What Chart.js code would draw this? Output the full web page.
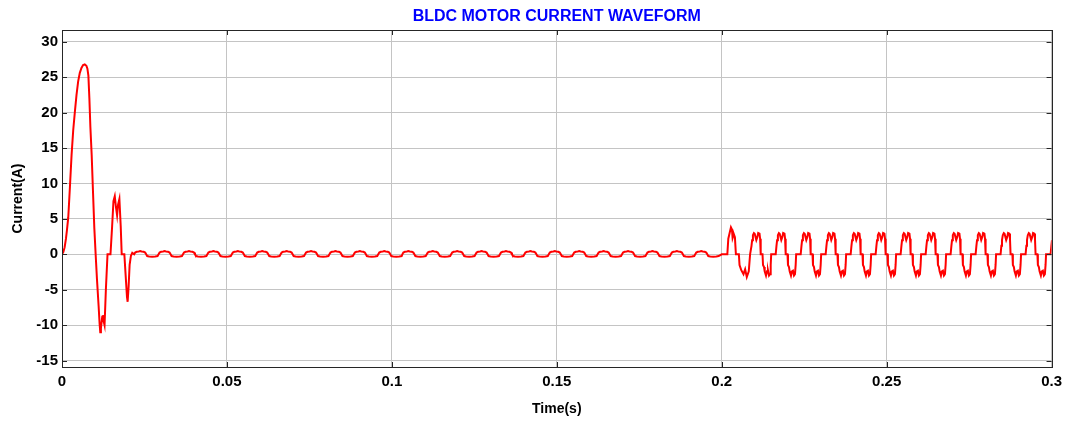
<!DOCTYPE html>
<html>
<head>
<meta charset="utf-8">
<title>BLDC Motor Current Waveform</title>
<script src="https://cdn.jsdelivr.net/npm/chart.js@4.4.1/dist/chart.umd.min.js"></script>
<style>
    html, body { margin: 0; padding: 0; background: #ffffff; }
    #wrap { position: relative; width: 1068px; height: 421px; }
</style>
</head>
<body>
<div id="wrap"><canvas id="currentChart"></canvas></div>
<script>
// start-up transient (s, A)
const startTime = [0, 0.0004, 0.0008, 0.0012, 0.0015, 0.0019, 0.0024, 0.0029, 0.0034, 0.0039, 0.0044,
    0.0049, 0.0054, 0.0059, 0.0064, 0.0069, 0.0074, 0.0077, 0.0080, 0.0083, 0.0086, 0.0090, 0.0094,
    0.0098, 0.0102, 0.0106, 0.0111, 0.0114, 0.0116, 0.0118, 0.0122, 0.0124, 0.0127, 0.0129,
    0.0133, 0.0138, 0.0147, 0.0152, 0.0156, 0.0160, 0.0164, 0.0167, 0.0170, 0.0174, 0.0178, 0.0181,
    0.0189, 0.0193, 0.0197, 0.0199, 0.0202, 0.0205, 0.0209, 0.0213];
const startCurrent = [0, 0.3, 1.0, 2.2, 3.4, 5.2, 9.5, 14.0, 17.5, 20.1, 22.5,
    24.4, 25.6, 26.3, 26.7, 26.8, 26.6, 26.2, 25.2, 22.0, 18.0, 14.0, 8.8,
    3.7, 0, -3.5, -7.3, -9.8, -11.0, -10.4, -8.8, -8.6, -9.6, -10.0,
    -5.0, 0, 0, 4.0, 7.5, 8.2, 6.5, 5.5, 7.0, 7.8, 4.0, 0,
    0, -3.0, -6.0, -6.7, -4.5, -1.5, -0.2, 0.2];

// no-load ripple: centre of each positive hump, and one ripple cycle around it
const idleCentres = [0.0237, 0.0311, 0.0385, 0.0459, 0.0533, 0.0607, 0.0681, 0.0755, 0.0829, 0.0903,
    0.0977, 0.1050, 0.1124, 0.1198, 0.1272, 0.1346, 0.1420, 0.1494, 0.1568, 0.1642, 0.1716, 0.1790,
    0.1864, 0.1938];
const idleShapeTime = [-0.00182, -0.00152, -0.00106, -0.00045, 0, 0.00045, 0.00106, 0.00152, 0.00182,
    0.00212, 0.00273, 0.00364, 0.00455, 0.00527];
const idleShapeCurrent = [0, 0.25, 0.35, 0.4, 0.45, 0.4, 0.35, 0.25, 0, -0.25, -0.3, -0.35, -0.3, -0.25];

// first cycle after the load is applied at 0.2 s
const stepTime = [0.2000, 0.2017, 0.2020, 0.2024, 0.2028, 0.2031, 0.2033, 0.2035, 0.2037, 0.2040, 0.2043,
    0.2052, 0.2054, 0.2059, 0.2066, 0.2071, 0.2076, 0.2082, 0.2086];
const stepCurrent = [0, 0, 2.2, 3.0, 3.8, 3.5, 2.3, 2.6, 2.8, 2.4, 0,
    0, -1.5, -2.2, -2.8, -2.1, -3.2, -2.4, 0];

// loaded phase current: centre of each positive block, and one commutation cycle around it
const loadCentres = [0.21061, 0.21818, 0.22576, 0.23333, 0.24091, 0.24848, 0.25606, 0.26364, 0.27121,
    0.27879, 0.28636, 0.29394, 0.30152];
const loadShapeTime = [-0.00182, -0.00158, -0.00139, -0.00115, -0.00085, -0.00061, -0.00012, 0.00018,
    0.00045, 0.00085, 0.00103, 0.00121, 0.00176, 0.00191, 0.00221, 0.00242, 0.00282, 0.00312, 0.00342,
    0.00373, 0.00403, 0.00424, 0.00439];
const loadShapeCurrent = [0, 1.2, 2.0, 2.7, 3.0, 2.9, 2.0, 2.4, 3.0, 2.9, 2.2, 0,
    0, -1.5, -1.8, -2.4, -3.0, -2.4, -2.3, -3.0, -2.8, -1.5, 0];

const xTicks = [0, 0.05, 0.1, 0.15, 0.2, 0.25, 0.3];
const xTickLabels = ["0", "0.05", "0.1", "0.15", "0.2", "0.25", "0.3"];
const yTicks = [-15, -10, -5, 0, 5, 10, 15, 20, 25, 30];
const yTickLabels = ["-15", "-10", "-5", "0", "5", "10", "15", "20", "25", "30"];

const chartTitle = "BLDC MOTOR CURRENT WAVEFORM";
const FONT = "'Liberation Sans', Arial, Helvetica, sans-serif";

function buildPoints() {
    const points = [];
    startTime.forEach((t, i) => points.push({ x: t, y: startCurrent[i] }));
    idleCentres.forEach((centre) => {
        idleShapeTime.forEach((dt, i) => points.push({ x: centre + dt, y: idleShapeCurrent[i] }));
    });
    stepTime.forEach((t, i) => points.push({ x: t, y: stepCurrent[i] }));
    loadCentres.forEach((centre) => {
        loadShapeTime.forEach((dt, i) => points.push({ x: centre + dt, y: loadShapeCurrent[i] }));
    });
    return points;
}

// box around the axes with inward tick marks on all four sides, title centred over the axes
const axesFrame = {
    id: "axesFrame",
    afterDraw(chart) {
        const { ctx, chartArea: area, scales } = chart;
        const tick = 5;
        ctx.save();
        ctx.strokeStyle = "#262626";
        ctx.lineWidth = 1;
        ctx.beginPath();
        xTicks.forEach((value) => {
            const x = Math.round(scales.x.getPixelForValue(value)) + 0.5;
            ctx.moveTo(x, area.bottom);
            ctx.lineTo(x, area.bottom - tick);
            ctx.moveTo(x, area.top);
            ctx.lineTo(x, area.top + tick);
        });
        yTicks.forEach((value) => {
            const y = Math.round(scales.y.getPixelForValue(value)) + 0.5;
            ctx.moveTo(area.left, y);
            ctx.lineTo(area.left + tick, y);
            ctx.moveTo(area.right, y);
            ctx.lineTo(area.right - tick, y);
        });
        ctx.stroke();
        ctx.strokeRect(Math.round(area.left) + 0.5, Math.round(area.top) + 0.5,
            Math.round(area.right - area.left), Math.round(area.bottom - area.top));

        ctx.fillStyle = "#0000ff";
        ctx.font = `bold 16px ${FONT}`;
        ctx.textAlign = "center";
        ctx.textBaseline = "middle";
        ctx.fillText(chartTitle, (area.left + area.right) / 2, 17);
        ctx.restore();
    }
};

function tickSetter(values) {
    return (scale) => {
        scale.ticks = values.map((value) => ({ value }));
    };
}

document.addEventListener("DOMContentLoaded", () => {
    const canvas = document.getElementById("currentChart");

    new Chart(canvas.getContext("2d"), {
        type: "line",
        data: {
            datasets: [{
                label: "Current",
                data: buildPoints(),
                borderColor: "#ff0000",
                borderWidth: 2,
                pointRadius: 0,
                tension: 0,
                fill: false
            }]
        },
        options: {
            responsive: true,
            maintainAspectRatio: false,
            animation: false,
            parsing: false,
            layout: {
                padding: { left: 0, right: 16, top: 30, bottom: 0 }
            },
            plugins: {
                legend: { display: false },
                tooltip: { enabled: false },
                title: { display: false }
            },
            scales: {
                x: {
                    type: "linear",
                    min: 0,
                    max: 0.3,
                    afterBuildTicks: tickSetter(xTicks),
                    afterFit(scale) { scale.height = 54; },
                    grid: { color: "#c4c4c4", lineWidth: 1, drawTicks: false },
                    border: { display: false },
                    ticks: {
                        color: "#000000",
                        padding: 6,
                        maxRotation: 0,
                        font: { family: FONT, size: 15, weight: "bold" },
                        callback: (value) => xTickLabels[xTicks.indexOf(value)]
                    },
                    title: {
                        display: true,
                        text: "Time(s)",
                        color: "#000000",
                        font: { family: FONT, size: 14, weight: "bold", lineHeight: 1.2 },
                        padding: { top: 0, bottom: 3 }
                    }
                },
                y: {
                    type: "linear",
                    min: -15.9,
                    max: 31.65,
                    afterBuildTicks: tickSetter(yTicks),
                    afterFit(scale) { scale.width = 62; },
                    grid: { color: "#c4c4c4", lineWidth: 1, drawTicks: false },
                    border: { display: false },
                    ticks: {
                        color: "#000000",
                        padding: 4,
                        font: { family: FONT, size: 15, weight: "bold" },
                        callback: (value) => yTickLabels[yTicks.indexOf(value)]
                    },
                    title: {
                        display: true,
                        text: "Current(A)",
                        color: "#000000",
                        font: { family: FONT, size: 14, weight: "bold", lineHeight: 1.2 },
                        padding: { top: 10, bottom: 0 }
                    }
                }
            }
        },
        plugins: [axesFrame]
    });
});
</script>
</body>
</html>
